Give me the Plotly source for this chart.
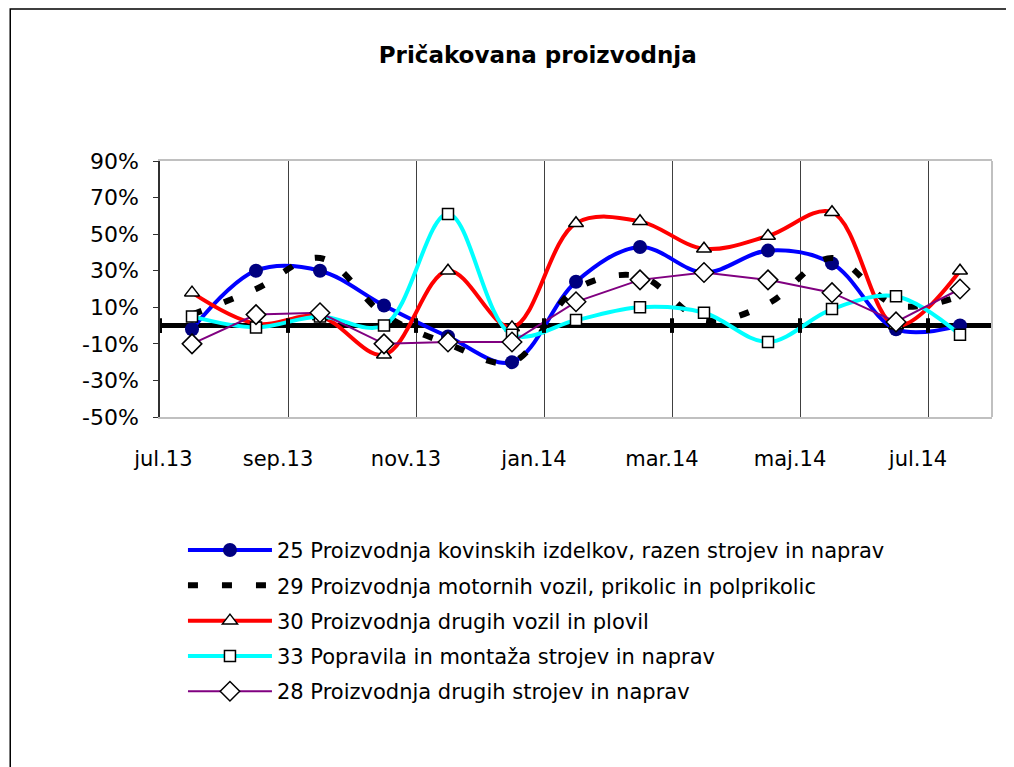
import plotly.graph_objects as go

months = ["jul.13", "avg.13", "sep.13", "okt.13", "nov.13", "dec.13", "jan.14",
          "feb.14", "mar.14", "apr.14", "maj.14", "jun.14", "jul.14"]
tick_labels = ["jul.13", "sep.13", "nov.13", "jan.14", "mar.14", "maj.14", "jul.14"]
y_ticks = [-50, -30, -10, 10, 30, 50, 70, 90]

s25 = [-2, 30, 30, 11, -6, -20, 24, 43, 29, 41, 34, -2, 0]
s29 = [6, 20, 37, 6, -10, -20, 20, 27, 3, 12, 37, 11, 16]
s30 = [18, 1, 5, -16, 30, -1, 56, 57, 42, 49, 62, 0, 30]
s33 = [5, -1, 5, 0, 61, -5, 3, 10, 7, -9, 9, 16, -5]
s28 = [-10, 6, 7, -10, -9, -9, 13, 25, 29, 25, 18, 2, 20]

names = [
    "25 Proizvodnja kovinskih izdelkov, razen strojev in naprav",
    "29 Proizvodnja motornih vozil, prikolic in polprikolic",
    "30 Proizvodnja drugih vozil in plovil",
    "33 Popravila in montaža strojev in naprav",
    "28 Proizvodnja drugih strojev in naprav",
]

FONT = "DejaVu Sans, Verdana, sans-serif"
x = list(range(len(months)))
tickvals = [i - 0.5 for i in range(0, len(months), 2)]
# first label sits slightly right of the left border in the original
x_ticktext = ["\u00a0" * 4 + tick_labels[0]] + tick_labels[1:]
y_ticktext = [f"{v}%" for v in y_ticks]

fig = go.Figure()
fig.add_trace(go.Scatter(x=x, y=s25, name=names[0], legendgroup="g1", mode="lines+markers",
                         line=dict(color="#0000FF", width=4, shape="spline", smoothing=1),
                         marker=dict(symbol="circle", size=14, color="#000080")))
fig.add_trace(go.Scatter(x=x, y=s29, name=names[1], legendgroup="g2", mode="lines",
                         line=dict(color="black", width=6, dash="10px,24px", shape="spline", smoothing=1)))
fig.add_trace(go.Scatter(x=x, y=s30, name=names[2], legendgroup="g3", mode="lines+markers",
                         line=dict(color="#FF0000", width=4, shape="spline", smoothing=1),
                         marker=dict(symbol="triangle-up", size=13, color="white",
                                     line=dict(color="black", width=1.5))))
fig.add_trace(go.Scatter(x=x, y=s33, name=names[3], legendgroup="g4", mode="lines+markers",
                         line=dict(color="#00FFFF", width=4, shape="spline", smoothing=1),
                         marker=dict(symbol="square", size=11, color="white",
                                     line=dict(color="black", width=1.5))))
fig.add_trace(go.Scatter(x=x, y=s28, name=names[4], legendgroup="g5", mode="lines+markers",
                         line=dict(color="#800080", width=2),
                         marker=dict(symbol="diamond", size=15, color="white",
                                     line=dict(color="black", width=1.5))))

shapes = []
# tick marks on the zero axis at category boundaries
for tv in tickvals:
    shapes.append(dict(type="line", xref="x", yref="y", x0=tv, x1=tv, y0=-4, y1=4,
                       line=dict(color="black", width=4)))
# right border of plot area
shapes.append(dict(type="line", xref="paper", yref="paper", x0=1, x1=1, y0=0, y1=1,
                   line=dict(color="#c0c0c0", width=2), layer="above"))
# outer chart frame (left and top edges visible)
shapes.append(dict(type="rect", xref="paper", yref="paper", x0=-0.180, x1=2, y0=1.594, y1=-3,
                   line=dict(color="black", width=1.5)))

fig.update_layout(
    width=1006, height=759,
    margin=dict(l=152, r=22, t=153, b=350),
    paper_bgcolor="white", plot_bgcolor="white",
    font=dict(family=FONT, size=21, color="black"),
    title=dict(text="<b>Pričakovana proizvodnja</b>", x=0.454, xref="paper", xanchor="center",
               y=1 - 47 / 759, yref="container", yanchor="middle",
               font=dict(family=FONT, size=23, color="black")),
    showlegend=True,
    legend=dict(x=0.0276, y=-0.441, xanchor="left", yanchor="top", orientation="v",
                font=dict(family=FONT, size=21, color="black"), itemwidth=84,
                bgcolor="rgba(0,0,0,0)", tracegroupgap=5),
    shapes=shapes,
)
fig.update_xaxes(range=[-0.5, len(months) - 0.5], tickmode="array", tickvals=tickvals,
                 ticktext=x_ticktext, showgrid=True, gridcolor="#404040", gridwidth=1,
                 showline=True, linecolor="#c0c0c0", linewidth=2, mirror=True, ticks="",
                 zeroline=False, ticklabelshift=-10, ticklabelstandoff=22,
                 tickfont=dict(family=FONT, size=21))
fig.update_yaxes(range=[-50, 90], tickmode="array", tickvals=y_ticks, ticktext=y_ticktext,
                 showgrid=False, showline=True, linecolor="#303030", linewidth=1.5,
                 ticks="outside", ticklen=5, tickcolor="#303030",
                 zeroline=True, zerolinecolor="black", zerolinewidth=5,
                 ticklabelstandoff=10, tickfont=dict(family=FONT, size=22))

fig.write_html("out.html")
